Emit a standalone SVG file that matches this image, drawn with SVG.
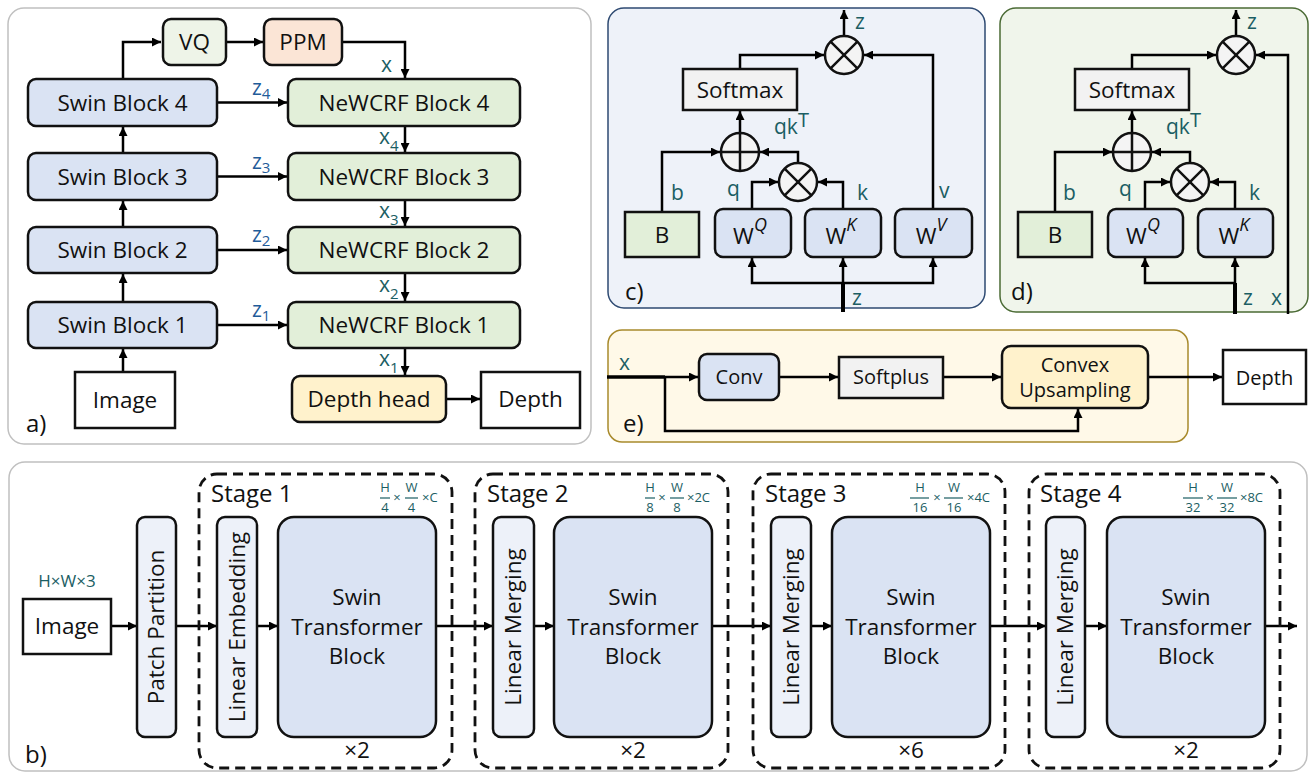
<svg xmlns="http://www.w3.org/2000/svg" width="1311" height="779" viewBox="0 0 1311 779">
<defs>
<marker id="ah" viewBox="0 0 10 10" refX="10" refY="5" markerWidth="10" markerHeight="9" markerUnits="userSpaceOnUse" orient="auto"><path d="M0,0 L10,5 L0,10 z" fill="#000"/></marker>
<style>
text{font-family:"Open Sans","Noto Sans","Liberation Sans",sans-serif;fill:#111}
.c{text-anchor:middle}
.f22{font-size:22.5px}
.f20{font-size:20px}
.f24{font-size:24px}
.zl{fill:#1f5c99;font-size:21px}
.xl{fill:#1b5e63;font-size:21px}
.tl{fill:#1b5e63}
.bx{stroke:#111;stroke-width:2.5}
.blue{fill:#dae3f3}
.green{fill:#e2efd9}
.lb{fill:#edf1f9}
.gray{fill:#f2f2f2}
.yel{fill:#fff2cc}
.wh{fill:#fff}
.cn{fill:none;stroke:#000;stroke-width:2.5}
.ar{marker-end:url(#ah)}
.dash{fill:none;stroke:#111;stroke-width:2.8;stroke-dasharray:10 6}
.circ{fill:#f4f4f4;stroke:#111;stroke-width:2.5}
.fr{font-size:13px;fill:#1b5e63}
.frl{stroke:#1b5e63;stroke-width:1.2}
</style>
</defs>

<!-- panel backgrounds -->
<g id="panel-a"><rect x="8" y="8" width="583" height="436" rx="16" fill="#fff" stroke="#c0c0c0" stroke-width="1.5"/><text x="26" y="432" class="f24">a)</text></g>
<g id="panel-c"><rect x="608" y="8" width="377" height="300" rx="16" fill="#eef2f9" stroke="#2e4a72" stroke-width="1.5"/><text x="625" y="300" class="f24">c)</text></g>
<g id="panel-d"><rect x="1000" y="8" width="308" height="304" rx="16" fill="#f0f5eb" stroke="#4b6b35" stroke-width="1.5"/><text x="1011" y="300" class="f24">d)</text></g>
<g id="panel-e"><rect x="608" y="330" width="580" height="112" rx="14" fill="#fff9e8" stroke="#a88a2c" stroke-width="1.5"/><text x="623" y="432" class="f24">e)</text></g>
<g id="panel-b"><rect x="9" y="462" width="1298" height="309" rx="16" fill="#fff" stroke="#c0c0c0" stroke-width="1.5"/><text x="25" y="763" class="f24">b)</text></g>

<!-- connectors -->
<g id="connectors">
<!-- a -->
<path class="cn ar" d="M123,79 V42 H161"/>
<path class="cn ar" d="M226,42 H263"/>
<path class="cn ar" d="M342,42 H405 V78"/>
<path class="cn ar" d="M123,153 V127"/>
<path class="cn ar" d="M123,227 V201"/>
<path class="cn ar" d="M123,302 V274"/>
<path class="cn ar" d="M123,372 V349"/>
<path class="cn ar" d="M217,102.5 H287"/>
<path class="cn ar" d="M217,176.5 H287"/>
<path class="cn ar" d="M217,250 H287"/>
<path class="cn ar" d="M217,325 H287"/>
<path class="cn ar" d="M405,126 V152"/>
<path class="cn ar" d="M405,200 V226"/>
<path class="cn ar" d="M405,273 V301"/>
<path class="cn ar" d="M405,348 V375"/>
<path class="cn ar" d="M446,399 H480"/>
<!-- c -->
<path class="cn ar" d="M844,36 V10"/>
<path class="cn ar" d="M740,69 V55 H824"/>
<path class="cn ar" d="M933,209 V55 H864"/>
<path class="cn ar" d="M740,133 V111"/>
<path class="cn ar" d="M662,212 V152 H720"/>
<path class="cn ar" d="M798,163 V152 H760"/>
<path class="cn ar" d="M752,209 V182 H778"/>
<path class="cn ar" d="M843,209 V182 H818"/>
<path class="cn ar" d="M843,312 V258"/>
<path class="cn" style="stroke-width:4" d="M843,312 V283"/>
<path class="cn ar" d="M843,283 H752 V258"/>
<path class="cn ar" d="M843,283 H933 V258"/>
<!-- d -->
<path class="cn ar" d="M1236,36 V10"/>
<path class="cn ar" d="M1132,69 V55 H1216"/>
<path class="cn ar" d="M1288,314 V55 H1256"/>
<path class="cn ar" d="M1132,133 V111"/>
<path class="cn ar" d="M1055,212 V152 H1112"/>
<path class="cn ar" d="M1190,163 V152 H1152"/>
<path class="cn ar" d="M1145,209 V182 H1170"/>
<path class="cn ar" d="M1235,209 V182 H1210"/>
<path class="cn ar" d="M1235,314 V258"/>
<path class="cn" style="stroke-width:4" d="M1235,314 V283"/>
<path class="cn ar" d="M1235,283 H1145 V258"/>
<!-- e -->
<path class="cn" style="stroke-width:3.5" d="M607,377 H665"/>
<path class="cn ar" d="M665,377 H698"/>
<path class="cn ar" d="M665,377 V431 H1078 V409"/>
<path class="cn ar" d="M779,377 H838"/>
<path class="cn ar" d="M943,377 H1001"/>
<path class="cn ar" d="M1148,377 H1222"/>
<!-- b -->
<path class="cn ar" d="M111,626 H137"/>
<path class="cn ar" d="M176,626 H217"/>
<path class="cn ar" d="M257,626 H278"/>
<path class="cn ar" d="M436,626 H493"/>
<path class="cn ar" d="M534,626 H554"/>
<path class="cn ar" d="M712,626 H771"/>
<path class="cn ar" d="M811,626 H832"/>
<path class="cn ar" d="M990,626 H1046"/>
<path class="cn ar" d="M1085,626 H1107"/>
<path class="cn ar" d="M1265,626 H1297"/>
</g>

<!-- connector labels -->
<g id="labels-a">
<text x="252" y="95" class="zl">z<tspan dy="4" font-size="15">4</tspan></text>
<text x="252" y="169" class="zl">z<tspan dy="4" font-size="15">3</tspan></text>
<text x="252" y="242" class="zl">z<tspan dy="4" font-size="15">2</tspan></text>
<text x="252" y="317" class="zl">z<tspan dy="4" font-size="15">1</tspan></text>
<text x="381" y="72" class="xl">x</text>
<text x="379" y="144" class="xl">x<tspan dy="7" font-size="15">4</tspan></text>
<text x="379" y="218" class="xl">x<tspan dy="7" font-size="15">3</tspan></text>
<text x="379" y="292" class="xl">x<tspan dy="7" font-size="15">2</tspan></text>
<text x="379" y="366" class="xl">x<tspan dy="7" font-size="15">1</tspan></text>
</g>
<g id="labels-c">
<text x="855" y="29" class="xl">z</text>
<text x="774" y="134" class="xl">qk<tspan dy="-7" font-size="20">T</tspan></text>
<text x="671" y="200" class="xl">b</text>
<text x="727" y="196" class="xl">q</text>
<text x="857" y="200" class="xl">k</text>
<text x="939" y="198" class="xl">v</text>
<text x="852" y="305" class="xl">z</text>
</g>
<g id="labels-d">
<text x="1247" y="29" class="xl">z</text>
<text x="1166" y="134" class="xl">qk<tspan dy="-7" font-size="20">T</tspan></text>
<text x="1063" y="200" class="xl">b</text>
<text x="1119" y="196" class="xl">q</text>
<text x="1249" y="200" class="xl">k</text>
<text x="1243" y="305" class="xl">z</text>
<text x="1271" y="305" class="xl">x</text>
</g>
<g id="labels-e"><text x="619" y="370" class="xl">x</text></g>

<!-- panel a nodes -->
<g id="vq"><rect x="163" y="19" width="63" height="46" rx="8" class="bx" fill="#eef4e8"/><text x="194.5" y="50" class="c f22">VQ</text></g>
<g id="ppm"><rect x="264" y="19" width="78" height="46" rx="8" class="bx" fill="#fbe5d6"/><text x="303" y="50" class="c f22">PPM</text></g>
<g id="swin4"><rect x="28" y="79" width="189" height="47" rx="8" class="bx blue"/><text x="122.5" y="111" class="c f22">Swin Block 4</text></g>
<g id="swin3"><rect x="28" y="153" width="189" height="47" rx="8" class="bx blue"/><text x="122.5" y="185" class="c f22">Swin Block 3</text></g>
<g id="swin2"><rect x="28" y="227" width="189" height="46" rx="8" class="bx blue"/><text x="122.5" y="258" class="c f22">Swin Block 2</text></g>
<g id="swin1"><rect x="28" y="302" width="189" height="46" rx="8" class="bx blue"/><text x="122.5" y="333" class="c f22">Swin Block 1</text></g>
<g id="newcrf4"><rect x="288" y="79" width="232" height="47" rx="8" class="bx green"/><text x="404" y="111" class="c f22">NeWCRF Block 4</text></g>
<g id="newcrf3"><rect x="288" y="153" width="232" height="47" rx="8" class="bx green"/><text x="404" y="185" class="c f22">NeWCRF Block 3</text></g>
<g id="newcrf2"><rect x="288" y="227" width="232" height="46" rx="8" class="bx green"/><text x="404" y="258" class="c f22">NeWCRF Block 2</text></g>
<g id="newcrf1"><rect x="288" y="302" width="232" height="46" rx="8" class="bx green"/><text x="404" y="333" class="c f22">NeWCRF Block 1</text></g>
<g id="image-a"><rect x="75" y="372" width="100" height="56" class="bx wh"/><text x="125" y="408" class="c f22">Image</text></g>
<g id="depthhead"><rect x="292" y="376" width="154" height="46" rx="8" class="bx yel"/><text x="369" y="407" class="c f22">Depth head</text></g>
<g id="depth-a"><rect x="481" y="372" width="99" height="56" class="bx wh"/><text x="530.5" y="407" class="c f22">Depth</text></g>

<!-- panel c nodes -->
<g id="c-mul-top"><circle cx="844" cy="55" r="19" class="circ"/><path d="M830.6,41.6 L857.4,68.4 M857.4,41.6 L830.6,68.4" stroke="#111" stroke-width="2.5"/></g>
<g id="c-softmax"><rect x="683" y="69" width="114" height="41" class="bx gray"/><text x="740" y="98" class="c f22">Softmax</text></g>
<g id="c-plus"><circle cx="740" cy="152" r="19" class="circ"/><path d="M740,133 V171 M721,152 H759" stroke="#111" stroke-width="2.5"/></g>
<g id="c-mul"><circle cx="798" cy="182" r="19" class="circ"/><path d="M784.6,168.6 L811.4,195.4 M811.4,168.6 L784.6,195.4" stroke="#111" stroke-width="2.5"/></g>
<g id="c-b"><rect x="625" y="212" width="74" height="45" class="bx green"/><text x="662" y="243" class="c f22">B</text></g>
<g id="c-wq"><rect x="715" y="209" width="76" height="48" rx="8" class="bx blue"/><text x="750" y="244" class="c f22">W<tspan dy="-13" font-size="18" font-style="italic">Q</tspan></text></g>
<g id="c-wk"><rect x="805" y="209" width="76" height="48" rx="8" class="bx blue"/><text x="841" y="244" class="c f22">W<tspan dy="-13" font-size="18" font-style="italic">K</tspan></text></g>
<g id="c-wv"><rect x="895" y="209" width="77" height="48" rx="8" class="bx blue"/><text x="931" y="244" class="c f22">W<tspan dy="-13" font-size="18" font-style="italic">V</tspan></text></g>

<!-- panel d nodes -->
<g id="d-mul-top"><circle cx="1236" cy="55" r="19" class="circ"/><path d="M1222.6,41.6 L1249.4,68.4 M1249.4,41.6 L1222.6,68.4" stroke="#111" stroke-width="2.5"/></g>
<g id="d-softmax"><rect x="1075" y="69" width="114" height="41" class="bx gray"/><text x="1132" y="98" class="c f22">Softmax</text></g>
<g id="d-plus"><circle cx="1132" cy="152" r="19" class="circ"/><path d="M1132,133 V171 M1113,152 H1151" stroke="#111" stroke-width="2.5"/></g>
<g id="d-mul"><circle cx="1190" cy="182" r="19" class="circ"/><path d="M1176.6,168.6 L1203.4,195.4 M1203.4,168.6 L1176.6,195.4" stroke="#111" stroke-width="2.5"/></g>
<g id="d-b"><rect x="1018" y="212" width="74" height="45" class="bx green"/><text x="1055" y="243" class="c f22">B</text></g>
<g id="d-wq"><rect x="1108" y="209" width="75" height="48" rx="8" class="bx blue"/><text x="1143" y="244" class="c f22">W<tspan dy="-13" font-size="18" font-style="italic">Q</tspan></text></g>
<g id="d-wk"><rect x="1198" y="209" width="75" height="48" rx="8" class="bx blue"/><text x="1234" y="244" class="c f22">W<tspan dy="-13" font-size="18" font-style="italic">K</tspan></text></g>

<!-- panel e nodes -->
<g id="e-conv"><rect x="699" y="354" width="80" height="46" rx="8" class="bx blue"/><text x="739" y="384" class="c f20">Conv</text></g>
<g id="e-softplus"><rect x="839" y="357" width="104" height="41" class="bx gray"/><text x="891" y="384" class="c f20">Softplus</text></g>
<g id="e-convex"><rect x="1002" y="346" width="146" height="62" rx="9" class="bx yel"/><text x="1075" y="372" class="c f20">Convex</text><text x="1075" y="397" class="c f20">Upsampling</text></g>
<g id="e-depth"><rect x="1223" y="350" width="83" height="54" class="bx wh"/><text x="1264.5" y="385" class="c f20">Depth</text></g>

<!-- panel b nodes -->
<g id="b-image"><rect x="23" y="599" width="88" height="55" class="bx wh"/><text x="67" y="634" class="c f22">Image</text><text x="67" y="587" class="c tl" font-size="17">H×W×3</text></g>
<g id="b-patch"><rect x="137" y="517" width="39" height="220" rx="8" class="bx lb"/><text transform="translate(164,627) rotate(-90)" class="c" font-size="22.5">Patch Partition</text></g>

<g id="stage1">
<rect x="199" y="474" width="253" height="294" rx="18" class="dash"/>
<text x="211" y="502" class="f24">Stage 1</text>
<text x="385" y="492" class="c fr">H</text><line x1="380" y1="498" x2="390" y2="498" class="frl"/><text x="385" y="512" class="c fr">4</text>
<text x="397" y="502" class="c fr">×</text>
<text x="411.5" y="492" class="c fr">W</text><line x1="405" y1="498" x2="418" y2="498" class="frl"/><text x="411.5" y="512" class="c fr">4</text>
<text x="422" y="502" class="fr">×C</text>
<rect x="217" y="517" width="40" height="220" rx="8" class="bx lb"/><text transform="translate(245,627) rotate(-90)" class="c" font-size="22.5">Linear Embedding</text>
<rect x="278" y="517" width="158" height="220" rx="16" class="bx blue"/>
<text x="357" y="605" class="c f22">Swin</text><text x="357" y="635" class="c f22">Transformer</text><text x="357" y="664" class="c f22">Block</text>
<text x="357" y="758" class="c f22">×2</text>
</g>

<g id="stage2">
<rect x="475" y="474" width="253" height="294" rx="18" class="dash"/>
<text x="487" y="502" class="f24">Stage 2</text>
<text x="650" y="492" class="c fr">H</text><line x1="645" y1="498" x2="655" y2="498" class="frl"/><text x="650" y="512" class="c fr">8</text>
<text x="662" y="502" class="c fr">×</text>
<text x="677" y="492" class="c fr">W</text><line x1="670" y1="498" x2="684" y2="498" class="frl"/><text x="677" y="512" class="c fr">8</text>
<text x="687" y="502" class="fr">×2C</text>
<rect x="493" y="517" width="41" height="220" rx="8" class="bx lb"/><text transform="translate(521,627) rotate(-90)" class="c" font-size="22.5">Linear Merging</text>
<rect x="554" y="517" width="158" height="220" rx="16" class="bx blue"/>
<text x="633" y="605" class="c f22">Swin</text><text x="633" y="635" class="c f22">Transformer</text><text x="633" y="664" class="c f22">Block</text>
<text x="633" y="758" class="c f22">×2</text>
</g>

<g id="stage3">
<rect x="753" y="474" width="252" height="294" rx="18" class="dash"/>
<text x="765" y="502" class="f24">Stage 3</text>
<text x="920" y="492" class="c fr">H</text><line x1="910" y1="498" x2="929" y2="498" class="frl"/><text x="920" y="512" class="c fr">16</text>
<text x="937" y="502" class="c fr">×</text>
<text x="954" y="492" class="c fr">W</text><line x1="944" y1="498" x2="963" y2="498" class="frl"/><text x="954" y="512" class="c fr">16</text>
<text x="967" y="502" class="fr">×4C</text>
<rect x="771" y="517" width="40" height="220" rx="8" class="bx lb"/><text transform="translate(799,627) rotate(-90)" class="c" font-size="22.5">Linear Merging</text>
<rect x="832" y="517" width="158" height="220" rx="16" class="bx blue"/>
<text x="911" y="605" class="c f22">Swin</text><text x="911" y="635" class="c f22">Transformer</text><text x="911" y="664" class="c f22">Block</text>
<text x="911" y="758" class="c f22">×6</text>
</g>

<g id="stage4">
<rect x="1029" y="474" width="251" height="294" rx="18" class="dash"/>
<text x="1040" y="502" class="f24">Stage 4</text>
<text x="1193" y="492" class="c fr">H</text><line x1="1183" y1="498" x2="1203" y2="498" class="frl"/><text x="1193" y="512" class="c fr">32</text>
<text x="1210" y="502" class="c fr">×</text>
<text x="1227" y="492" class="c fr">W</text><line x1="1217" y1="498" x2="1237" y2="498" class="frl"/><text x="1227" y="512" class="c fr">32</text>
<text x="1240" y="502" class="fr">×8C</text>
<rect x="1046" y="517" width="39" height="220" rx="8" class="bx lb"/><text transform="translate(1073,627) rotate(-90)" class="c" font-size="22.5">Linear Merging</text>
<rect x="1107" y="517" width="158" height="220" rx="16" class="bx blue"/>
<text x="1186" y="605" class="c f22">Swin</text><text x="1186" y="635" class="c f22">Transformer</text><text x="1186" y="664" class="c f22">Block</text>
<text x="1186" y="758" class="c f22">×2</text>
</g>
</svg>
